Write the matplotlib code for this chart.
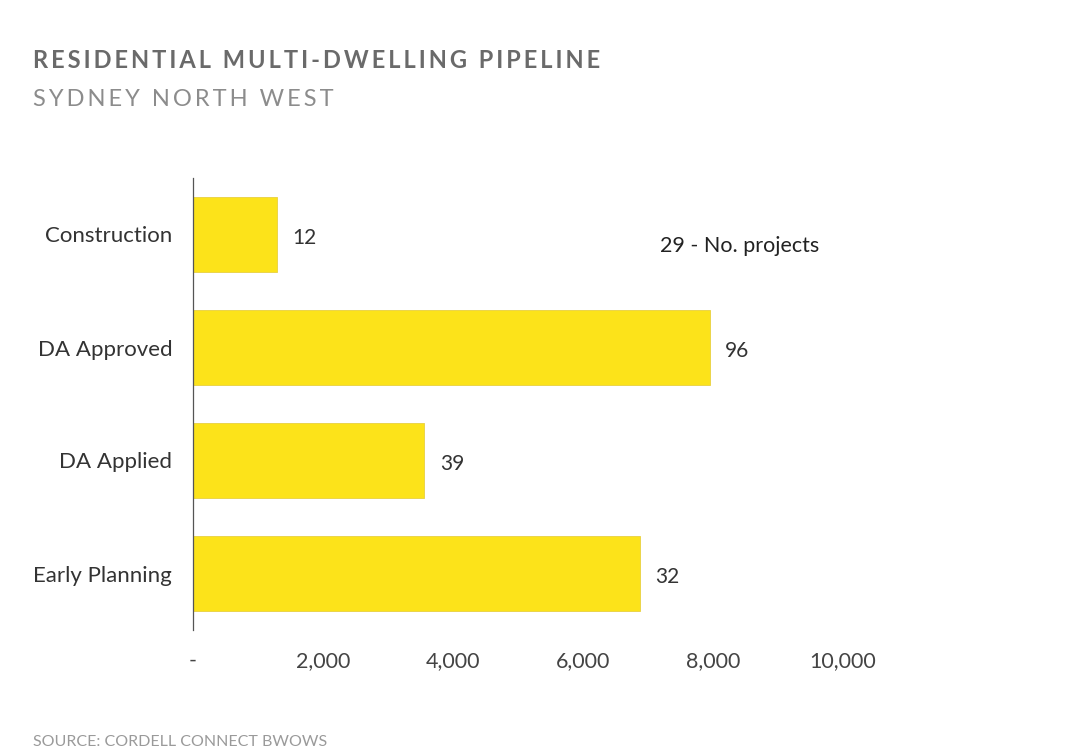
import matplotlib
matplotlib.use("Agg")
import matplotlib.pyplot as plt
from matplotlib.ticker import FuncFormatter

plt.rcParams['font.family'] = ['Lato', 'DejaVu Sans']

# data
stages = ["Construction", "DA Approved", "DA Applied", "Early Planning"]
dwellings = [1290, 7950, 3560, 6870]
projects = [12, 96, 39, 32]
xticks = [0, 2000, 4000, 6000, 8000, 10000]

bar_col = "#FCE31A"
text_col = "#333333"


def spaced(s, n=2):
    # rough letter spacing for the header lines
    return ("\u200a" * n).join(s)


fig = plt.figure(figsize=(10.8, 7.48), dpi=100)
ax = fig.add_axes([193 / 1080, 1 - 630 / 748, 780 / 1080, 452 / 748])

ypos = list(range(len(stages)))
ax.barh(ypos, dwellings, height=0.66, color=bar_col, edgecolor="#E8D040", linewidth=0.6)
ax.set_ylim(len(stages) - 0.5, -0.5)
ax.set_xlim(0, 12000)

for y, w, n in zip(ypos, dwellings, projects):
    ax.annotate(str(n), (w, y), xytext=(11, -2.5), textcoords="offset points",
                va="center", ha="left", fontsize=15, color=text_col)

ax.text(0.599, 0.85, "29 - No. projects", transform=ax.transAxes, va="center", ha="left",
        fontsize=15.5, color="#222222")

ax.set_yticks(ypos)
ax.set_yticklabels(stages, fontsize=16, color=text_col)
ax.set_xticks(xticks)
ax.xaxis.set_major_formatter(FuncFormatter(lambda v, p: "-" if v == 0 else f"{int(v):,}"))
ax.tick_params(axis="x", length=0, pad=15, labelsize=15.5, labelcolor="#444444")
ax.tick_params(axis="y", length=0, pad=15)

for s in ["top", "right", "bottom"]:
    ax.spines[s].set_visible(False)
ax.spines["left"].set_color("#555555")
ax.spines["left"].set_linewidth(0.9)

fig.text(33 / 1080, 1 - 61 / 748, spaced("RESIDENTIAL MULTI-DWELLING PIPELINE"), fontsize=17,
         fontweight="bold", color="#6a6a6a", va="center", ha="left")
fig.text(33 / 1080, 1 - 99 / 748, spaced("SYDNEY NORTH WEST"), fontsize=17,
         color="#8c8c8c", va="center", ha="left")
fig.text(33 / 1080, 1 - 735 / 748, "SOURCE: CORDELL CONNECT BWOWS", fontsize=11.5,
         color="#9a9a9a", va="top", ha="left")

fig.savefig("out.png", dpi=100, facecolor="white")
